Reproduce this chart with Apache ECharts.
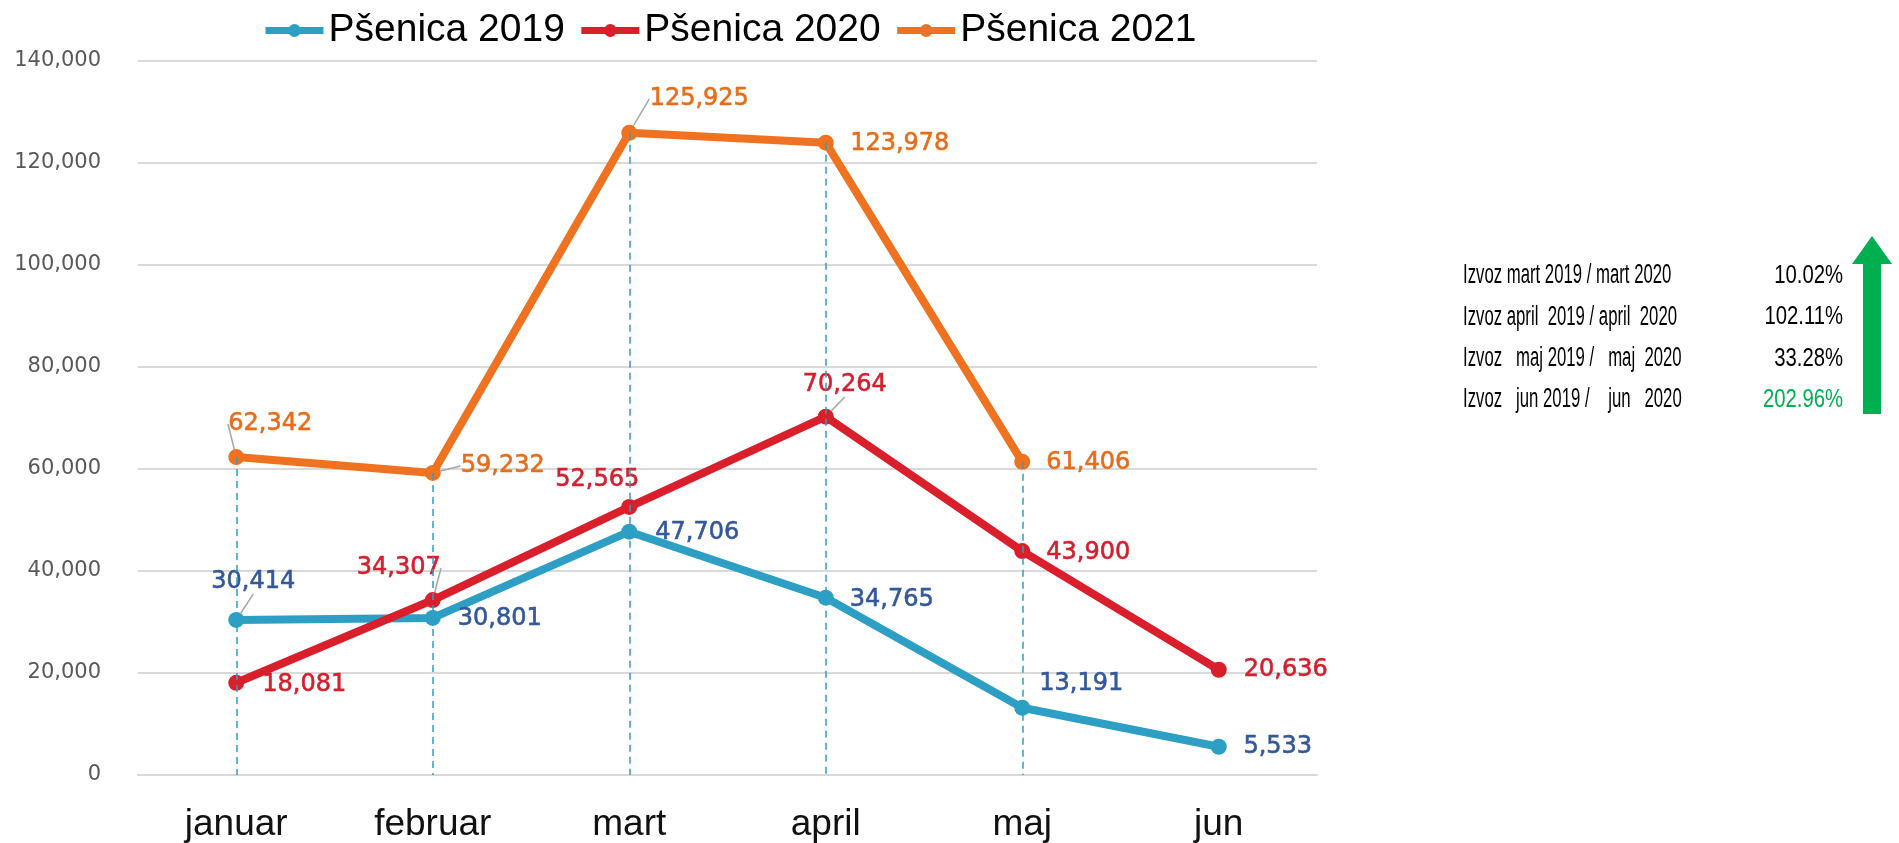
<!DOCTYPE html>
<html>
<head>
<meta charset="utf-8">
<title>Pšenica izvoz</title>
<script src="https://cdn.jsdelivr.net/npm/echarts@6/dist/echarts.min.js"></script>
<style>
  html, body { margin: 0; padding: 0; background: #fff; }
  #chart { width: 1899px; height: 843px; }
</style>
</head>
<body>
<div id="chart"></div>
<script>
// values
const months = ['januar', 'februar', 'mart', 'april', 'maj', 'jun']
const psenica2019 = [30414, 30801, 47706, 34765, 13191, 5533]
const psenica2020 = [18081, 34307, 52565, 70264, 43900, 20636]
const psenica2021 = [62342, 59232, 125925, 123978, 61406]
const seriesNames = ['Pšenica 2019', 'Pšenica 2020', 'Pšenica 2021']

const compareLabels = [
  'Izvoz mart 2019 / mart 2020',
  'Izvoz april  2019 / april  2020',
  'Izvoz   maj 2019 /   maj  2020',
  'Izvoz   jun 2019 /    jun   2020'
]
const comparePercents = ['10.02%', '102.11%', '33.28%', '202.96%']

// label placement (centre of label relative to the point), and which get a leader line
const offsets2019 = [[17, -38], [67, 1], [68, 1], [66, 2], [59, -24], [59, 0]]
const offsets2020 = [[68, 2], [-34, -32], [-32, -27], [19, -32], [66, 2], [67, 0]]
const offsets2021 = [[34, -33], [70, -7], [70, -34], [74, 1], [66, 1]]
const leader2019 = [true, false, false, false, false, false]
const leader2020 = [false, true, false, true, false, false]
const leader2021 = [true, true, true, false, false]

const colors = {
  line2019: '#2E9FC4',
  line2020: '#D91F2B',
  line2021: '#EE7220',
  label2019: '#34589A',
  label2020: '#D3202E',
  label2021: '#E66D1A',
  drop: '#2E9FC4',
  green: '#00B050'
}

const fmt = v => v.toLocaleString('en-US')

const makeData = (values, leaders) =>
  values.map((v, i) => ({ value: v, labelLine: { show: leaders[i] } }))

const makeSeries = (name, values, leaders, offsets, lineColor, labelColor, extra) => ({
  name,
  type: 'line',
  data: makeData(values, leaders),
  symbol: 'circle',
  symbolSize: 16,
  lineStyle: { color: lineColor, width: 8 },
  itemStyle: { color: lineColor },
  label: {
    show: true,
    position: 'inside',
    align: 'center',
    verticalAlign: 'middle',
    formatter: p => fmt(p.value),
    fontFamily: 'DejaVu Sans',
    fontSize: 24,
    color: labelColor,
    // a thin outline in the same colour makes the figures a bit heavier
    textBorderColor: labelColor,
    textBorderWidth: 0.6
  },
  labelLine: {
    show: false,
    lineStyle: { color: '#A6A6A6', width: 1.5 }
  },
  labelLayout: p => ({ dx: offsets[p.dataIndex][0], dy: offsets[p.dataIndex][1] }),
  ...extra
})

const chart = echarts.init(document.getElementById('chart'))

const annotX = 1463
const annotRight = 1843
const annotTop = 276
const annotGap = 41.3

const graphics = []
compareLabels.forEach((t, i) => {
  graphics.push({
    type: 'text',
    x: annotX,
    y: annotTop + i * annotGap,
    scaleX: 0.62,
    style: {
      text: t,
      fontFamily: 'Liberation Sans',
      fontSize: 27,
      fill: '#000',
      align: 'left',
      verticalAlign: 'middle'
    }
  })
  graphics.push({
    type: 'text',
    x: annotRight,
    y: annotTop + i * annotGap,
    scaleX: 0.78,
    style: {
      text: comparePercents[i],
      fontFamily: 'Liberation Sans',
      fontSize: 26,
      fill: i === 3 ? colors.green : '#000',
      align: 'right',
      verticalAlign: 'middle'
    }
  })
})
// green up arrow
graphics.push({
  type: 'polygon',
  shape: {
    points: [[1872, 236], [1892, 264], [1881, 264], [1881, 414], [1863, 414], [1863, 264], [1852, 264]]
  },
  style: { fill: colors.green }
})

const option = {
  animation: false,
  backgroundColor: '#fff',
  legend: {
    left: 257,
    top: 6,
    itemWidth: 58,
    itemHeight: 16,
    itemGap: 13,
    lineStyle: { width: 7 },
    textStyle: {
      fontFamily: 'Liberation Sans',
      fontSize: 39,
      color: '#000'
    },
    data: seriesNames
  },
  grid: {
    left: 138,
    right: 582,
    top: 61,
    bottom: 66
  },
  xAxis: {
    type: 'category',
    data: months,
    boundaryGap: true,
    axisLine: { lineStyle: { color: '#D9D9D9', width: 2 } },
    axisTick: { show: false },
    axisLabel: {
      margin: 31,
      fontFamily: 'Liberation Sans',
      fontSize: 37,
      color: '#111'
    }
  },
  yAxis: {
    type: 'value',
    min: 0,
    max: 140000,
    interval: 20000,
    axisLine: { show: false },
    axisTick: { show: false },
    axisLabel: {
      margin: 37,
      fontFamily: 'DejaVu Sans',
      fontSize: 21,
      color: '#595959',
      formatter: v => fmt(v)
    },
    splitLine: { lineStyle: { color: '#D9D9D9', width: 2 } }
  },
  graphic: graphics,
  series: [
    makeSeries(seriesNames[0], psenica2019, leader2019, offsets2019, colors.line2019, colors.label2019, {
      // drop lines from the 2021 points down to the axis
      markLine: {
        silent: true,
        symbol: ['none', 'none'],
        label: { show: false },
        lineStyle: { color: colors.drop, width: 1.5, type: [7, 5] },
        data: psenica2021.map((v, i) => [{ coord: [i, v] }, { coord: [i, 0] }])
      }
    }),
    makeSeries(seriesNames[1], psenica2020, leader2020, offsets2020, colors.line2020, colors.label2020, {}),
    makeSeries(seriesNames[2], psenica2021, leader2021, offsets2021, colors.line2021, colors.label2021, {})
  ]
}

chart.setOption(option)
</script>
</body>
</html>
